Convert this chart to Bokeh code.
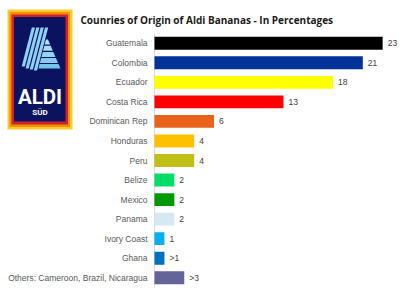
from bokeh.plotting import figure
from bokeh.models import ColumnDataSource, Range1d
from bokeh.core.properties import value
from bokeh.embed import file_html
from bokeh.resources import INLINE

# ---------------- data ----------------
countries = ["Guatemala", "Colombia", "Ecuador", "Costa Rica", "Dominican Rep",
             "Honduras", "Peru", "Belize", "Mexico", "Panama", "Ivory Coast",
             "Ghana", "Others: Cameroon, Brazil, Nicaragua"]
shares = [23, 21, 18, 13, 6, 4, 4, 2, 2, 2, 1, 1, 3]
share_labels = ["23", "21", "18", "13", "6", "4", "4", "2", "2", "2", "1", ">1", ">3"]
bar_colors = ["#000000", "#003399", "#FFFF00", "#FF0000", "#E8621C",
              "#FFC000", "#C0BE17", "#00DD66", "#009900", "#D6E9F2",
              "#00B0F0", "#0070C0", "#646499"]
title_text = "Counries of Origin of Aldi Bananas - In Percentages"

# ---------------- layout ----------------
W, H = 404, 290
AX_X, FT, FB = 154, 33, 287          # axis position, top/bottom of bar area (px)
PX_PER_UNIT = 9.92
n = len(countries)
band = (FB - FT) / n

# category positions: first category at the top
ypos = [n - 1 - i + 0.5 for i in range(n)]
zeros = [0] * n

src = ColumnDataSource(dict(country=countries, share=shares, label=share_labels,
                            color=bar_colors, y=ypos, zero=zeros))

p = figure(width=W, height=H, title=None,
           x_range=Range1d(-AX_X / PX_PER_UNIT, (W - AX_X) / PX_PER_UNIT),
           y_range=Range1d(-(H - FB) / band, n + FT / band),
           output_backend="svg", toolbar_location=None,
           min_border=0, min_border_left=0, min_border_right=0,
           min_border_top=0, min_border_bottom=0)
p.axis.visible = False
p.grid.visible = False
p.outline_line_color = None
p.background_fill_color = "white"
p.border_fill_color = "white"
# pixel ranges for decorations (y grows downwards)
p.extra_x_ranges = {"px": Range1d(0, W)}
p.extra_y_ranges = {"px": Range1d(H, 0)}

# axis line
p.segment(x0=0, x1=0, y0=0, y1=n, line_color="#d9d9d9", line_width=1)

# bars
p.hbar(y="y", left="zero", right="share", height=0.66, source=src,
       fill_color="color", line_color=None)

# category labels
p.text(x="zero", y="y", text="country", source=src, x_offset=-7,
       text_align=value("right"), text_baseline=value("middle"),
       text_font=value("Liberation Sans"), text_font_size=value("8.5px"),
       text_color="#595959")

# value labels
p.text(x="share", y="y", text="label", source=src, x_offset=5,
       text_align=value("left"), text_baseline=value("middle"),
       text_font=value("Liberation Sans"), text_font_size=value("8.5px"),
       text_color="#404040")

# ---------------- decorations in pixel space ----------------
PXR = dict(x_range_name="px", y_range_name="px")

p.text(x=[80], y=[19.5], text=[title_text], **PXR,
       text_font=value("Open Sans"), text_font_style=value("bold"),
       text_font_size=value("10px"), text_color="#1a1a1a",
       text_align=value("left"), text_baseline=value("alphabetic"))

# ALDI SUED logo frame layers
p.quad(left=[7, 9, 11, 13.5], right=[72, 69.5, 67.5, 65],
       top=[9, 11.5, 14, 16.5], bottom=[129, 126.5, 124, 121],
       fill_color=["#F9CB30", "#F29100", "#D0202A", "#0B1360"],
       line_color=None, **PXR)

# slanted stripes
top_y, slope = 27.0, 0.26
stripe_bottoms = [66.0, 68.0, 69.0, 70.0]
sx, sy = [], []
for i, by in enumerate(stripe_bottoms):
    x0 = 31.3 + 4.4 * i
    d = slope * (by - top_y)
    sx.append([x0, x0 + 3.2, x0 + 3.2 - d, x0 - d])
    sy.append([top_y, top_y, by, by])
p.patches(xs=sx, ys=sy, fill_color="#8FD1F2", line_color=None, **PXR)

# stepped triangle
def tri_l(y):
    return 48.6 - slope * (y - top_y)

def tri_r(y):
    return 47.5 + 12.0 * (y - 39.0) / 28.0

bands = [(39.0, 44.0), (45.2, 50.2), (51.4, 56.4), (57.6, 62.4), (63.6, 68.0)]
band_cols = ["#B6E3F8", "#A5DCF6", "#93D4F3", "#82CCF0", "#72C4EC"]
tx = [[tri_l(a), tri_r(a), tri_r(b), tri_l(b)] for a, b in bands]
ty = [[a, a, b, b] for a, b in bands]
p.patches(xs=tx, ys=ty, fill_color=band_cols, line_color=None, **PXR)

p.text(x=[39.5], y=[96.5], text=["ALDI"], **PXR,
       text_font=value("Roboto"), text_font_style=value("bold"),
       text_font_size=value("20.5px"), text_color="white",
       text_align=value("center"), text_baseline=value("alphabetic"))
p.text(x=[39.5], y=[112], text=["SÜD"], **PXR,
       text_font=value("Roboto"), text_font_style=value("bold"),
       text_font_size=value("8px"), text_color="white",
       text_align=value("center"), text_baseline=value("alphabetic"))

open("out.html", "w").write(file_html(p, INLINE))
